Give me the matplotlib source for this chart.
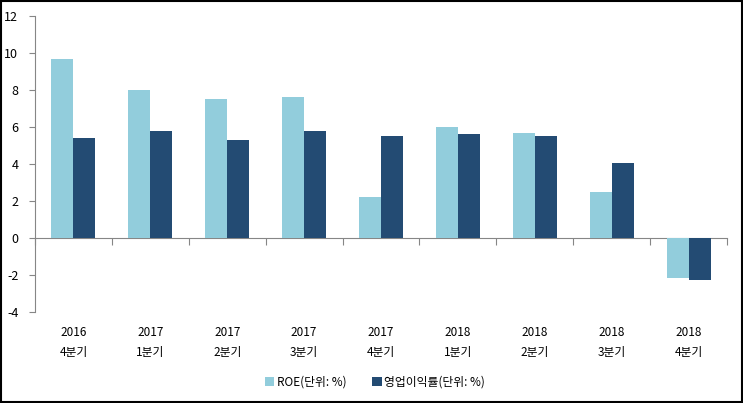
import matplotlib
matplotlib.use("Agg")
import matplotlib.pyplot as plt
import numpy as np
from matplotlib.patches import Rectangle

plt.rcParams["font.family"] = ["Noto Sans CJK KR", "DejaVu Sans"]
plt.rcParams["axes.unicode_minus"] = False

years = ["2016", "2017", "2017", "2017", "2017", "2018", "2018", "2018", "2018"]
quarters = ["4분기", "1분기", "2분기", "3분기", "4분기", "1분기", "2분기", "3분기", "4분기"]
roe = [9.7, 8.0, 7.5, 7.6, 2.2, 6.0, 5.7, 2.5, -2.15]
op_margin = [5.43, 5.8, 5.3, 5.8, 5.5, 5.6, 5.5, 4.03, -2.25]
series_names = ["ROE(단위: %)", "영업이익률(단위: %)"]
y_ticks = [-4, -2, 0, 2, 4, 6, 8, 10, 12]

light = "#92CDDC"
dark = "#234B73"
grey = "#868686"

fig = plt.figure(figsize=(7.43, 4.03), dpi=100)
ax = fig.add_axes([35 / 743, 1 - 312 / 403, (727 - 35) / 743, (312 - 16) / 403])

x = np.arange(len(roe))
w = 0.286
b1 = ax.bar(x - w / 2, roe, w, color=light, label=series_names[0])
b2 = ax.bar(x + w / 2, op_margin, w, color=dark, label=series_names[1])

ax.set_xlim(-0.5, len(roe) - 0.5)
ax.set_ylim(-4, 12)
ax.set_yticks(y_ticks)
ax.set_yticklabels([str(v) for v in y_ticks])
ax.tick_params(axis="y", direction="out", length=4, color=grey, labelsize=9, pad=8)

labels = [f"{yr}\n{q}" for yr, q in zip(years, quarters)]
ax.set_xticks(x)
ax.set_xticklabels(labels, fontsize=8.5, linespacing=1.7)
ax.tick_params(axis="x", length=0, pad=10)

for side in ["top", "right", "bottom"]:
    ax.spines[side].set_visible(False)
ax.spines["left"].set_color(grey)

# zero line with category boundary ticks
sec = ax.secondary_xaxis(4 / 16)
sec.set_xticks(np.arange(-0.5, len(roe), 1.0))
sec.set_xticklabels([])
sec.tick_params(direction="out", length=5, color=grey)
sec.spines["bottom"].set_color(grey)

fig.legend(handles=[b1, b2], labels=series_names, loc="center", bbox_to_anchor=(375 / 743, 1 - 382 / 403),
           ncol=2, frameon=False, fontsize=8.5, handlelength=0.8, handleheight=0.8,
           handletextpad=0.2, columnspacing=2.2)

fig.patches.append(Rectangle((0.001, 0.002), 0.997, 0.996, transform=fig.transFigure,
                             fill=False, edgecolor="black", linewidth=1.5))

fig.savefig("out.png", dpi=100)
